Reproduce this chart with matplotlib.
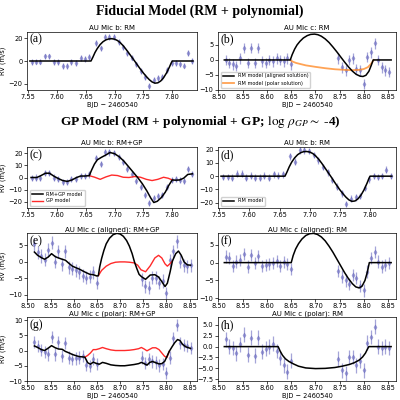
import matplotlib.pyplot as plt

plt.rcParams['font.family'] = 'DejaVu Sans'
plt.rcParams['font.size'] = 4.8
plt.rcParams['axes.linewidth'] = 0.5
plt.rcParams['xtick.major.width'] = 0.5
plt.rcParams['ytick.major.width'] = 0.5
plt.rcParams['xtick.major.size'] = 2
plt.rcParams['ytick.major.size'] = 2
plt.rcParams['xtick.major.pad'] = 1.2
plt.rcParams['ytick.major.pad'] = 1.2
plt.rcParams['mathtext.fontset'] = 'stix'

# ---- AU Mic b transit (BJD - 2460540) ----
tb = [7.556, 7.564, 7.571, 7.579, 7.587, 7.594, 7.602, 7.610, 7.618, 7.625,
      7.633, 7.641, 7.648, 7.656, 7.668, 7.676, 7.684, 7.691, 7.699, 7.707,
      7.714, 7.722, 7.730, 7.737, 7.745, 7.753, 7.760, 7.768, 7.776, 7.783,
      7.791, 7.799, 7.806, 7.813, 7.820, 7.827, 7.834]
rv_a = [-1, -0.5, -0.5, 4, 4, -1, -1, -4.5, -4.5, -1,
        -2, 2.5, 1.5, 3.5, 16, 11, 21, 21, 21, 17,
        12, 7, 3, -3, -9, -14, -22, -17, -15, -14,
        -8, -2, -2, -3, -4, 7, 0]
rv_c = [-0.5, 0, -0.5, 4, 4, 0, -1, -3.5, -3.5, -1.5,
        -1.5, 1.5, 1, 2.5, 16, 11, 20.5, 20.5, 20, 17,
        13, 7, 3, -2.5, -8, -14, -21, -17, -15, -14,
        -8, -2, -1.5, -2, -2.5, 7, 3]
rv_d = [-0.5, -0.5, -1, 2, 2, -1, 0.5, -1, -1, 0.5,
        -1, 1.5, 0.5, 1.5, 15, 11, 19.5, 19.5, 19, 16,
        12, 7, 3, -3, -8, -13, -21, -17, -16, -15,
        -9, -2.5, 0, -0.5, 0, 5, 0]
err_b = 2.5

# RM models for b
tm_b = [7.553, 7.659, 7.662, 7.666, 7.670, 7.675, 7.680, 7.685, 7.690, 7.695,
        7.700, 7.705, 7.710, 7.715, 7.720, 7.725, 7.730, 7.735, 7.740, 7.745,
        7.750, 7.755, 7.760, 7.765, 7.770, 7.775, 7.780, 7.785, 7.790, 7.795,
        7.798, 7.800, 7.836]
rm_a = [0, 0, 3, 7.5, 11, 14.5, 17, 18.6, 19.4, 19.6,
        19.2, 18.0, 16.0, 13.4, 10.2, 6.8, 3.3, -0.2, -3.8, -7.3,
        -10.6, -13.6, -16.3, -18.4, -19.5, -19.2, -17.6, -14.7, -10.6, -5.5,
        -2, 0, 0]
rm_d = [0, 0, 2.8, 7.0, 10.5, 13.8, 16.2, 17.7, 18.5, 18.6,
        18.2, 17.1, 15.2, 12.7, 9.7, 6.4, 3.1, -0.2, -3.7, -7.1,
        -10.3, -13.2, -15.8, -17.9, -19.0, -18.7, -17.1, -14.3, -10.3, -5.3,
        -1.9, 0, 0]

# RM+GP model and GP model for b
tm_cb = [7.555, 7.565, 7.572, 7.580, 7.587, 7.595, 7.603, 7.610, 7.618, 7.626,
         7.634, 7.641, 7.648, 7.656, 7.660, 7.665, 7.670, 7.677, 7.685, 7.692,
         7.700, 7.708, 7.716, 7.724, 7.732, 7.740, 7.748, 7.756, 7.763, 7.768,
         7.774, 7.781, 7.788, 7.794, 7.800, 7.806, 7.813, 7.820, 7.827, 7.835]
tot_c = [0, 0, 1.5, 3.5, 3.5, 1, -1, -2.5, -3.2, -2,
         0, 1.2, 1.2, 1.5, 6, 11, 14.5, 16.5, 18.5, 20.5,
         19.5, 17, 13.5, 9, 4.5, 0, -5, -11, -17, -20.5,
         -19.5, -16.5, -12, -6.5, -2, -2.2, -2, -0.5, 2.5, 3]
tg_cb = [7.656, 7.665, 7.675, 7.685, 7.695, 7.705, 7.715, 7.725, 7.735, 7.745,
         7.755, 7.765, 7.775, 7.785, 7.793, 7.800]
gp_c = [1.5, 0.3, -1.5, 0.5, 2.0, 1.6, 0.2, 0.0, 0.8, 0.2,
        -1.5, -2.5, -1.5, 0.2, -0.6, -2.0]

# ---- AU Mic c transit ----
tc = [8.515, 8.522, 8.530, 8.537, 8.545, 8.552, 8.560, 8.567, 8.575, 8.582,
      8.590, 8.597, 8.605, 8.612, 8.620, 8.627, 8.635, 8.642, 8.650,
      8.747, 8.754, 8.762, 8.769, 8.777, 8.784, 8.792, 8.799, 8.807, 8.814,
      8.822, 8.829, 8.837, 8.844, 8.852]
rv_b = [0, -1, -1.5, -2, 0.5, 4, -1, 4, -1, 4,
        -0.5, -1, 0, -0.5, 0.5, 0, -0.5, 0.5, -1.5,
        0.5, -2.5, -3.5, 0, 0.5, -3, -3.5, -8, 1, 2.5,
        5.5, 0, -2.5, -3.5, -4]
rv_e = [5.3, 2.9, 1.8, 0.7, 3.7, 5.8, 0.0, 3.2, -0.7, 3.2,
        -1.6, -2.1, -2.6, -3.2, -4.2, -4.8, -4.5, -3.2, -6.3,
        -5.3, -7.4, -7.9, -4.8, -4.8, -6.3, -5.8, -9.5, 0.5, 3.2,
        6.3, 0.0, -1.0, -1.4, -1.0]
rv_f = [1.7, 1.2, -0.9, 0.3, 0.8, 2.3, -1.1, 2.1, -0.2, 1.8,
        -0.9, -0.6, -0.5, 0.0, 0.5, -1.0, 0.2, -0.3, -1.7,
        -2.3, -3.9, -5.0, -6.0, -3.4, -4.3, -6.6, -7.8, -2.5, 1.2,
        3.0, 0.3, -1.1, -0.6, -0.2]
rv_g = [2.9, 1.4, 0.3, -0.5, -1.3, 4.5, -1.3, 2.9, -1.8, 2.4,
        -2.3, -2.8, -2.6, -2.3, -1.8, -4.7, -5.2, -2.8, -4.3,
        -2.3, -4.2, -2.8, -3.6, -3.9, -4.9, -4.4, -7.5, -2.3, 4.0,
        8.3, 2.4, 1.9, 1.4, 0.8]
rv_h = [1.7, 0, -0.3, -1.5, 0.5, 2.7, -1.9, 2.0, -2.1, 2.0,
        -1.2, -0.5, 0, 0.7, -1.0, -2.6, -4.3, -5.8, -3.2,
        -2.8, -5.4, -6.1, -2.4, -2.4, -4.3, -3.2, -5.4, 0.9, 2.2,
        4.6, 0.0, -0.3, 0.0, -0.3]
err_c = 1.7
err_cgp = 2.0

# aligned RM model, fiducial fit (b)
tm_al = [8.512, 8.648, 8.652, 8.657, 8.662, 8.668, 8.675, 8.683, 8.690, 8.698,
         8.705, 8.712, 8.720, 8.728, 8.736, 8.744, 8.752, 8.760, 8.768, 8.776,
         8.784, 8.792, 8.798, 8.804, 8.810, 8.815, 8.819, 8.856]
rm_al = [0, 0, 1.8, 3.6, 5.0, 6.2, 7.3, 8.1, 8.5, 8.6,
         8.4, 7.9, 7.0, 5.8, 4.3, 2.7, 1.0, -0.7, -2.3, -3.7,
         -4.8, -5.4, -5.5, -5.1, -3.8, -1.8, 0, 0]
# polar RM model, fiducial fit (b)
tm_po = [8.648, 8.652, 8.660, 8.670, 8.680, 8.700, 8.720, 8.740, 8.760, 8.775,
         8.790, 8.800, 8.808, 8.814, 8.818, 8.820]
rm_po = [0, -0.5, -1.0, -1.4, -1.8, -2.3, -2.75, -3.1, -3.3, -3.4,
         -3.3, -3.0, -2.4, -1.4, -0.5, 0]

# aligned RM+GP (e)
te = [8.515, 8.522, 8.530, 8.537, 8.545, 8.552, 8.560, 8.567, 8.575, 8.582,
      8.590, 8.597, 8.605, 8.612, 8.620, 8.627, 8.635, 8.642, 8.650, 8.653,
      8.656, 8.660, 8.665, 8.670, 8.677, 8.685, 8.693, 8.700, 8.707, 8.714,
      8.720, 8.726, 8.731, 8.736, 8.741, 8.747, 8.755, 8.765, 8.775, 8.783,
      8.790, 8.797, 8.802, 8.808, 8.813, 8.820, 8.826, 8.832, 8.838, 8.845,
      8.852]
tot_e = [3.0, 2.0, 1.3, 0.8, 1.5, 2.5, 1.6, 1.2, 0.8, 0.5,
         -0.5, -1.3, -1.8, -2.2, -2.8, -3.3, -3.8, -3.9, -4.3, -4.2,
         -1.5, 1.0, 3.5, 5.5, 7.2, 8.3, 8.7, 8.5, 7.8, 6.5,
         4.8, 2.5, 0.0, -2.0, -3.8, -4.6, -5.3, -4.0, -3.9, -4.6,
         -6.0, -7.5, -6.5, -3.0, 0.3, 2.5, 3.3, 2.0, 0.0, -0.9,
         -1.0]
tge = [8.653, 8.660, 8.670, 8.680, 8.690, 8.700, 8.710, 8.720, 8.730, 8.738,
       8.745, 8.755, 8.765, 8.775, 8.783, 8.790, 8.797, 8.802, 8.808, 8.813]
gp_e = [-4.2, -2.6, -1.3, -0.5, -0.1, 0.0, 0.0, -0.1, -0.3, -1.0,
        -2.4, -3.0, -1.2, 1.2, 2.0, 1.2, -0.6, -1.3, -0.5, 0.3]

# aligned RM only (f)
tm_f = [8.512, 8.650, 8.654, 8.659, 8.665, 8.672, 8.680, 8.688, 8.696, 8.704,
        8.712, 8.720, 8.728, 8.736, 8.744, 8.752, 8.760, 8.768, 8.776, 8.783,
        8.790, 8.796, 8.802, 8.807, 8.811, 8.856]
rm_f = [0, 0, 2.0, 3.8, 5.3, 6.6, 7.6, 8.1, 8.2, 7.9,
        7.2, 6.1, 4.6, 2.9, 1.0, -0.9, -2.8, -4.5, -5.9, -6.8,
        -7.1, -6.6, -5.0, -2.6, 0, 0]

# polar RM+GP (g)
tg = [8.515, 8.522, 8.530, 8.537, 8.545, 8.552, 8.560, 8.567, 8.575, 8.582,
      8.590, 8.597, 8.605, 8.612, 8.620, 8.624, 8.630, 8.636, 8.642, 8.648,
      8.655, 8.662, 8.670, 8.680, 8.690, 8.700, 8.710, 8.720, 8.730, 8.740,
      8.746, 8.752, 8.758, 8.764, 8.770, 8.777, 8.784, 8.790, 8.796, 8.801,
      8.806, 8.812, 8.818, 8.824, 8.829, 8.835, 8.842, 8.852]
tot_g = [1.5, 1.0, 0.3, 0.0, 0.8, 1.6, 0.9, 0.5, 0.4, -0.3,
         -0.8, -1.3, -1.7, -2.0, -2.1, -2.2, -4.0, -4.5, -3.8, -4.2,
         -4.5, -3.9, -4.2, -4.7, -4.9, -5.0, -5.0, -4.8, -4.6, -4.3,
         -3.9, -4.3, -4.8, -3.9, -3.6, -4.0, -4.4, -4.3, -3.6, -2.0,
         -0.3, 1.2, 2.6, 3.6, 3.3, 2.0, 1.2, 0.7]
tgg = [8.624, 8.630, 8.636, 8.642, 8.648, 8.655, 8.662, 8.670, 8.680, 8.690,
       8.700, 8.710, 8.720, 8.730, 8.740, 8.746, 8.752, 8.758, 8.764, 8.770,
       8.777, 8.784, 8.790, 8.796, 8.801, 8.806]
gp_g = [-2.2, -1.6, -0.8, 0.3, 0.3, 0.6, 1.0, 0.6, 0.2, 0.0,
        0.0, 0.0, 0.1, 0.3, 0.6, 1.0, 0.5, -0.1, 0.4, 0.9,
        0.9, 0.3, -0.8, -1.9, -2.3, -0.3]

# polar RM only (h)
tm_h = [8.512, 8.623, 8.627, 8.632, 8.638, 8.645, 8.655, 8.665, 8.680, 8.700,
        8.720, 8.740, 8.755, 8.770, 8.780, 8.790, 8.797, 8.803, 8.807, 8.810,
        8.856]
rm_h = [0, 0, -1.0, -2.0, -2.8, -3.4, -4.0, -4.5, -4.9, -5.05,
        -5.0, -4.8, -4.5, -4.1, -3.7, -3.1, -2.4, -1.5, -0.6, 0,
        0]

pcol = '#6a6abf'
gpcol = '#ff2a2a'
xlim_b = (7.548, 7.843)
xlim_c = (8.499, 8.866)


def box(l, t, r, b):
    return [l / 400, 1 - b / 400, (r - l) / 400, (b - t) / 400]


def points(ax, t, v, e):
    ax.errorbar(t, v, yerr=e, fmt='d', color=pcol, ms=2.6, mew=0.4,
                elinewidth=0.9, alpha=0.6, zorder=1)


def style(ax, title, letter, xlim, ylim, ylabel=False, xlabel=False):
    ax.set_title(title, fontsize=5.0, pad=1.2)
    ax.set_xlim(*xlim)
    ax.set_ylim(*ylim)
    ax.text(0.015, 0.97, letter, transform=ax.transAxes, ha='left', va='top',
            fontsize=8.5, fontfamily='Liberation Serif')
    if ylabel:
        ax.set_ylabel('RV (m/s)')
        ax.yaxis.set_label_coords(-0.125, 0.5)
    if xlabel:
        ax.set_xlabel('BJD \u2212 2460540', labelpad=1)


fig = plt.figure(figsize=(4, 4), dpi=100)

fig.text(0.5, 1 - 11 / 400, 'Fiducial Model (RM + polynomial)', ha='center', va='center',
         fontfamily='Liberation Serif', fontweight='bold', fontsize=10)
fig.text(0.5, 1 - 122 / 400, r'GP Model (RM + polynomial + GP; $\log\,\rho_{GP}\sim$ -4)',
         ha='center', va='center', fontfamily='Liberation Serif', fontweight='bold', fontsize=9.6)

# (a)
ax = fig.add_axes(box(27, 32, 197, 90))
points(ax, tb, rv_a, err_b)
ax.plot(tm_b, rm_a, color='k', lw=1.1, zorder=3)
ax.set_yticks([-20, 0, 20])
style(ax, 'AU Mic b: RM', '(a)', xlim_b, (-25.5, 25.5), ylabel=True, xlabel=True)

# (b)
ax = fig.add_axes(box(218, 32, 396, 90))
points(ax, tc, rv_b, err_c)
ax.plot(tm_al, rm_al, color='k', lw=1.1, zorder=3, label='RM model (aligned solution)')
ax.plot(tm_po, rm_po, color='#ff8c2a', lw=1.3, alpha=0.8, zorder=2, label='RM model (polar solution)')
ax.set_yticks([-10, -5, 0, 5])
style(ax, 'AU Mic c: RM', '(b)', xlim_c, (-10, 9.3), xlabel=True)
ax.legend(loc='lower left', fontsize=3.6, handlelength=2.2, borderpad=0.4, labelspacing=0.4,
          frameon=True, framealpha=0.9, edgecolor='0.8', fancybox=True)

# (c)
ax = fig.add_axes(box(27, 147, 197, 208))
points(ax, tb, rv_c, err_b)
ax.plot(tg_cb, gp_c, color=gpcol, lw=1.0, zorder=2, label='GP model')
ax.plot(tm_cb, tot_c, color='k', lw=1.1, zorder=3, label='RM+GP model')
ax.set_yticks([-20, -10, 0, 10, 20])
style(ax, 'AU Mic b: RM+GP', '(c)', xlim_b, (-25, 25), ylabel=True)
h, l = ax.get_legend_handles_labels()
ax.legend(h[::-1], l[::-1], loc='lower left', fontsize=3.6, handlelength=2.2, borderpad=0.4,
          labelspacing=0.4, framealpha=0.9, edgecolor='0.8')

# (d)
ax = fig.add_axes(box(218, 147, 396, 208))
points(ax, tb, rv_d, err_b)
ax.plot(tm_b, rm_d, color='k', lw=1.1, zorder=3, label='RM model')
ax.set_yticks([-20, -10, 0, 10, 20])
style(ax, 'AU Mic b: RM', '(d)', xlim_b, (-24, 22))
ax.legend(loc='lower left', fontsize=3.6, handlelength=2.2, borderpad=0.4,
          framealpha=0.9, edgecolor='0.8')

# (e)
ax = fig.add_axes(box(27, 233, 197, 299))
points(ax, tc, rv_e, err_cgp)
ax.plot(tge, gp_e, color=gpcol, lw=1.0, zorder=2)
ax.plot(te, tot_e, color='k', lw=1.1, zorder=3)
ax.set_yticks([-10, -5, 0, 5])
style(ax, 'AU Mic c (aligned): RM+GP', '(e)', xlim_c, (-11.3, 8.8), ylabel=True)

# (f)
ax = fig.add_axes(box(218, 233, 396, 299))
points(ax, tc, rv_f, err_c)
ax.plot(tm_f, rm_f, color='k', lw=1.1, zorder=3)
ax.set_yticks([-10, -5, 0, 5])
style(ax, 'AU Mic c (aligned): RM', '(f)', xlim_c, (-10.2, 8.3))

# (g)
ax = fig.add_axes(box(27, 317, 197, 381))
points(ax, tc, rv_g, err_cgp)
ax.plot(tgg, gp_g, color=gpcol, lw=1.0, zorder=2)
ax.plot(tg, tot_g, color='k', lw=1.1, zorder=3)
ax.set_yticks([-10, -5, 0, 5, 10])
style(ax, 'AU Mic c (polar): RM+GP', '(g)', xlim_c, (-10, 11), ylabel=True, xlabel=True)

# (h)
ax = fig.add_axes(box(218, 317, 396, 381))
points(ax, tc, rv_h, err_c)
ax.plot(tm_h, rm_h, color='k', lw=1.1, zorder=3)
ax.set_yticks([-7.5, -5.0, -2.5, 0.0, 2.5, 5.0])
ax.set_yticklabels(['\u22127.5', '\u22125.0', '\u22122.5', '0.0', '2.5', '5.0'])
style(ax, 'AU Mic c (polar): RM', '(h)', xlim_c, (-7.9, 6.8), xlabel=True)

fig.savefig('out.png', dpi=100)
